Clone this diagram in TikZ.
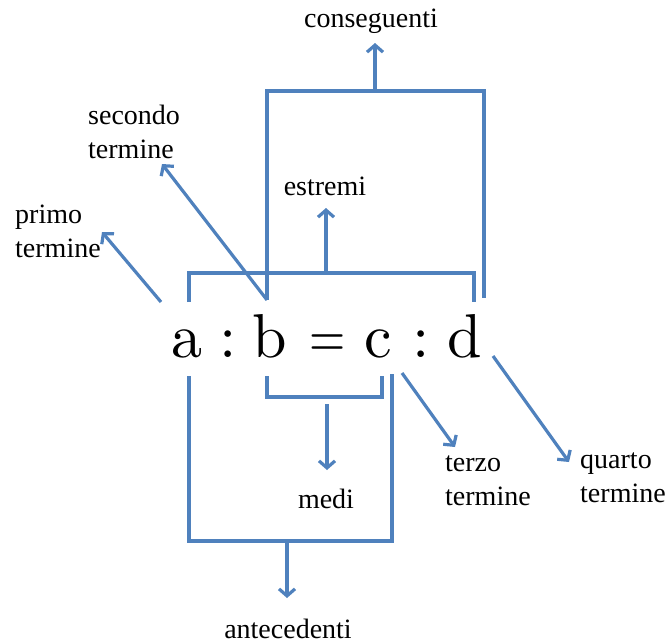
\documentclass[tikz,border=0pt]{standalone}
\usepackage{fontspec}
\newfontfamily\lblfont{Liberation Serif}
\newfontfamily\eqfont{lmroman10-regular.otf}
\usetikzlibrary{arrows.meta}
\definecolor{lineblue}{RGB}{79,129,189}
\tikzset{
  line/.style={lineblue, line width=3.2pt},
  arr/.style={line, -{Straight Barb[length=7pt,width=16pt]}},
  lbl/.style={font=\lblfont\fontsize{28}{34}\selectfont, inner sep=0pt, align=left},
  sym/.style={font=\eqfont\fontsize{62}{70}\selectfont, inner sep=0pt, anchor=base}
}

\begin{document}
\begin{tikzpicture}[x=1pt,y=-1pt]
\useasboundingbox (0,0) rectangle (668,643);
\node[sym] (a) at (187,357) {a};
\node[sym] (col1) at (228,357) {:};
\node[sym] (b) at (270,357) {b};
\node[sym, xscale=0.75] (eq) at (328,357) {=};
\node[sym] (c) at (378,357) {c};
\node[sym] (col2) at (421,357) {:};
\node[sym] (d) at (465,357) {d};

\node[lbl, anchor=base] (conseguenti) at (371,27) {conseguenti};
\node[lbl, anchor=base] (estremi) at (325,195) {estremi};
\node[lbl, anchor=base] (medi) at (326,508) {medi};
\node[lbl, anchor=base] (antecedenti) at (288,638) {antecedenti};
\node[lbl, anchor=base west] (primo) at (15,257) {primo\\termine};
\node[lbl, anchor=base west] (secondo) at (88,158) {secondo\\termine};
\node[lbl, anchor=base west] (terzo) at (445,505) {terzo\\termine};
\node[lbl, anchor=base west] (quarto) at (580,502) {quarto\\termine};

\coordinate (cons1) at (375,91);
\coordinate (cons2) at (375,43);
\coordinate (estr1) at (326,273);
\coordinate (estr2) at (326,208);
\coordinate (med1) at (327,404);
\coordinate (med2) at (327,470);
\coordinate (ante1) at (287,541);
\coordinate (ante2) at (287,598);
\coordinate (p1) at (161,302);
\coordinate (p2) at (102,232);
\coordinate (s1) at (267,300);
\coordinate (s2) at (162,164);
\coordinate (t1) at (402,373);
\coordinate (t2) at (455,447);
\coordinate (q1) at (493,356);
\coordinate (q2) at (569,462);

\draw[line] (189,302) |- (474,273) -- (474,302);
\draw[line] (267,300) |- (484,91) -- (484,298);
\draw[line] (267,376) |- (382,397) -- (382,376);
\draw[line] (189,376) |- (392,541) -- (392,374);

\draw[arr] (cons1) -- (cons2);
\draw[arr] (estr1) -- (estr2);
\draw[arr] (med1) -- (med2);
\draw[arr] (ante1) -- (ante2);
\draw[arr] (p1) -- (p2);
\draw[arr] (s1) -- (s2);
\draw[arr] (t1) -- (t2);
\draw[arr] (q1) -- (q2);
\end{tikzpicture}
\end{document}
